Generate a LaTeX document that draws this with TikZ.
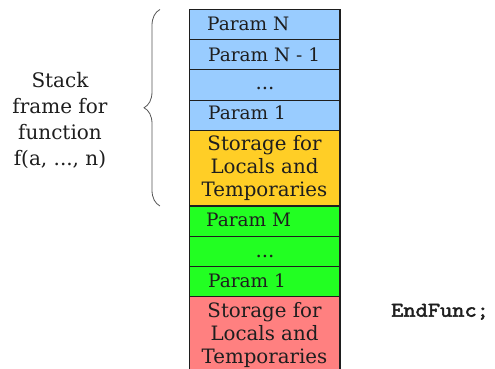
\documentclass[tikz,border=0pt]{standalone}
\usepackage{fontspec}
\setmainfont{DejaVu Serif}
\newfontfamily\codefont[FakeBold=2.5,FakeStretch=1.13]{Latin Modern Mono}
\usetikzlibrary{decorations.pathreplacing}
\definecolor{pblue}{RGB}{153,204,255}
\definecolor{pyellow}{RGB}{255,206,38}
\definecolor{pgreen}{RGB}{34,255,34}
\definecolor{pred}{RGB}{255,128,128}
\definecolor{ink}{RGB}{30,30,30}
\begin{document}
\begin{tikzpicture}[x=1pt,y=1pt,
  cell/.style={draw=ink,line width=1.1pt},
  lbl/.style={anchor=base west,inner sep=0pt,text=ink,font=\fontsize{18.5}{23}\selectfont},
  mlbl/.style={anchor=base,inner sep=0pt,align=center,text=ink,font=\fontsize{19.8}{23}\selectfont},
  side/.style={anchor=base,inner sep=0pt,align=center,text=ink,font=\fontsize{20}{26}\selectfont},
  bracestyle/.style={draw=ink!75,line width=0.8pt,decorate,decoration={brace,amplitude=16pt}}]
\useasboundingbox (0,0) rectangle (495,369);
% cells
\filldraw[cell,fill=pblue] (189.5,359.5) rectangle (340,329.3);
\filldraw[cell,fill=pblue] (189.5,329.3) rectangle (340,299.1);
\filldraw[cell,fill=pblue] (189.5,299.1) rectangle (340,268.9);
\filldraw[cell,fill=pblue] (189.5,268.9) rectangle (340,238.7);
\filldraw[cell,fill=pyellow] (189.5,238.7) rectangle (340,163);
\filldraw[cell,fill=pgreen] (189.5,163) rectangle (340,132.8);
\filldraw[cell,fill=pgreen] (189.5,132.8) rectangle (340,102.6);
\filldraw[cell,fill=pgreen] (189.5,102.6) rectangle (340,72.3);
\filldraw[cell,fill=pred] (189.5,72.3) rectangle (340,-6);
% labels
\node[lbl] (pn) at (207,338) {Param N};
\node[lbl] (pn1) at (208,307.3) {Param N - 1};
\node[mlbl] (d1) at (265,279) {...};
\node[lbl] (p1) at (208,249) {Param 1};
\node[mlbl] (s1) at (264.5,172) {Storage for\\Locals and\\Temporaries};
\node[lbl] (pm) at (206,142.3) {Param M};
\node[mlbl] (d2) at (265,111) {...};
\node[lbl] (p1b) at (208,81.7) {Param 1};
\node[mlbl] (s2) at (264.5,5) {Storage for\\Locals and\\Temporaries};
% side text
\node[side] (sf) at (60,203) {Stack\\frame for\\function\\f(a, ..., n)};
\coordinate (bt) at (160,359.5);
\coordinate (bb) at (160,163);
\draw[bracestyle] (bb) -- (bt);
\node[anchor=base west,inner sep=0pt,text=ink,font=\codefont\fontsize{21}{24}\selectfont] (ef) at (391,52.3) {EndFunc;};
\end{tikzpicture}
\end{document}
